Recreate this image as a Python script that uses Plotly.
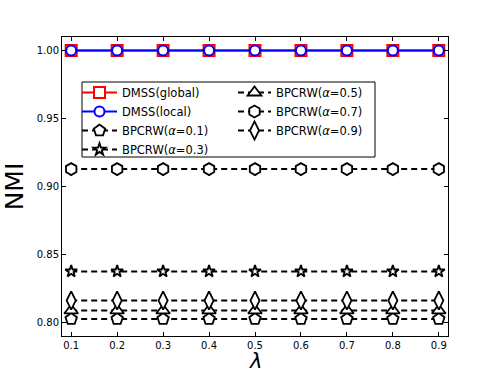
import plotly.graph_objects as go

lam = [0.1, 0.2, 0.3, 0.4, 0.5, 0.6, 0.7, 0.8, 0.9]
dmss_global = [1.0] * 9
dmss_local = [1.0] * 9
bpcrw_01 = [0.8025] * 9
bpcrw_03 = [0.8375] * 9
bpcrw_05 = [0.8088] * 9
bpcrw_07 = [0.9128] * 9
bpcrw_09 = [0.8161] * 9

y_ticks = [0.80, 0.85, 0.90, 0.95, 1.00]
x_ticks = lam

FONT = "DejaVu Sans"
fig = go.Figure()

fig.add_trace(go.Scatter(
    x=lam, y=dmss_global, mode="lines+markers", name="DMSS(global)",
    line=dict(color="red", width=2),
    marker=dict(symbol="square", size=11, color="white", line=dict(color="red", width=2)),
    legend="legend"))
fig.add_trace(go.Scatter(
    x=lam, y=dmss_local, mode="lines+markers", name="DMSS(local)",
    line=dict(color="blue", width=2),
    marker=dict(symbol="circle", size=10, color="white", line=dict(color="blue", width=2)),
    legend="legend"))

black_series = [
    ("BPCRW(<i>α</i>=0.1)", bpcrw_01, "pentagon", 12, "legend"),
    ("BPCRW(<i>α</i>=0.3)", bpcrw_03, "star", 9, "legend"),
    ("BPCRW(<i>α</i>=0.5)", bpcrw_05, "triangle-up", 12, "legend2"),
    ("BPCRW(<i>α</i>=0.7)", bpcrw_07, "hexagon", 12, "legend2"),
    ("BPCRW(<i>α</i>=0.9)", bpcrw_09, "diamond-tall", 13, "legend2"),
]
for name, vals, sym, sz, lg in black_series:
    fig.add_trace(go.Scatter(
        x=lam, y=vals, mode="lines+markers", name=name,
        line=dict(color="black", width=2, dash="6px,4px"),
        marker=dict(symbol=sym, size=sz, color="white", line=dict(color="black", width=1.8)),
        legend=lg))

L, R, T, B = 62, 50, 37, 38
W, H = 498, 374
pw, ph = W - L - R, H - T - B

def px_x(p):
    return (p - L) / pw

def px_y(p):
    return 1 - (p - T) / ph

fig.update_layout(
    width=W, height=H,
    margin=dict(l=L, r=R, t=T, b=B, autoexpand=False),
    paper_bgcolor="white", plot_bgcolor="white",
    font=dict(family=FONT, size=10, color="black"),
    xaxis=dict(
        range=[0.08, 0.92], tickvals=x_ticks, ticktext=[f"{v:.1f}" for v in x_ticks],
        ticks="inside", ticklen=4, tickcolor="black", showline=True, linecolor="black",
        linewidth=1, mirror="ticks", showgrid=False, zeroline=False, automargin=False,
        tickfont=dict(size=10, family=FONT),
    ),
    yaxis=dict(
        range=[0.79, 1.01], tickvals=y_ticks, ticktext=[f"{v:.2f}" for v in y_ticks],
        ticks="inside", ticklen=4, tickcolor="black", showline=True, linecolor="black",
        linewidth=1, mirror="ticks", showgrid=False, zeroline=False, automargin=False,
        tickfont=dict(size=10, family=FONT),
        title=dict(text="NMI", font=dict(size=25, family=FONT), standoff=7),
    ),
    legend=dict(
        x=px_x(77), y=px_y(78), xanchor="left", yanchor="top",
        bgcolor="rgba(0,0,0,0)", borderwidth=0, itemwidth=35,
        font=dict(size=11.5, family=FONT), tracegroupgap=0,
    ),
    legend2=dict(
        x=px_x(233), y=px_y(78), xanchor="left", yanchor="top",
        bgcolor="rgba(0,0,0,0)", borderwidth=0, itemwidth=33,
        font=dict(size=11.5, family=FONT), tracegroupgap=0,
    ),
    shapes=[dict(
        type="rect", xref="paper", yref="paper",
        x0=px_x(82), x1=px_x(375), y0=px_y(157), y1=px_y(82),
        line=dict(color="black", width=1), fillcolor="rgba(0,0,0,0)", layer="above",
    )],
    annotations=[dict(
        text="<i>λ</i>", xref="paper", yref="paper", x=0.5, y=px_y(361),
        xanchor="center", yanchor="middle", showarrow=False,
        font=dict(size=21, family=FONT, color="black"),
    )],
)

fig.write_html("out.html", config={"displayModeBar": False},
               post_script="document.body.style.margin='0';")
